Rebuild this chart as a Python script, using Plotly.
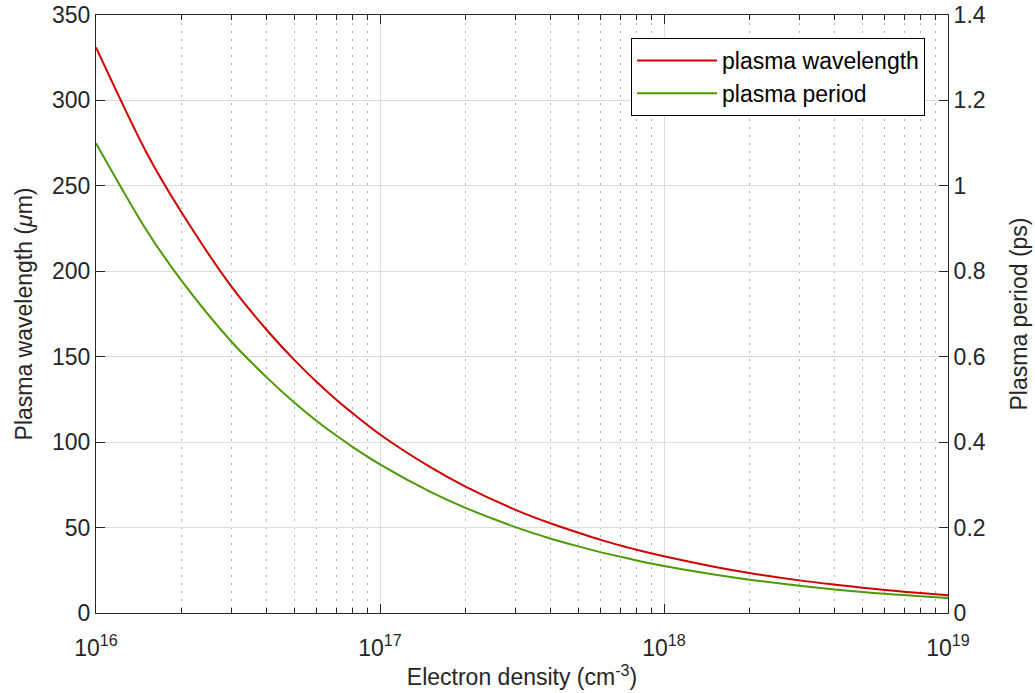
import plotly.graph_objects as go

# Data
density = [1e16, 1.5e16, 2e16, 3e16, 4e16, 5e16, 6e16, 7e16, 8e16,
           1e17, 1.5e17, 2e17, 3e17, 4e17, 5e17, 6e17, 7e17, 8e17,
           1e18, 1.5e18, 2e18, 3e18, 4e18, 5e18, 6e18, 7e18, 8e18, 1e19]
wavelength_um = [331, 270, 234.5, 191, 165.5, 148, 135, 125, 117,
                 104.5, 85.5, 74.0, 60.4, 52.4, 47.0, 42.8, 39.6, 37.0,
                 33.2, 27.1, 23.4, 19.1, 16.6, 14.8, 13.5, 12.5, 11.7, 10.4]
period_ps = [1.10, 0.898, 0.778, 0.635, 0.551, 0.492, 0.449, 0.416, 0.389,
             0.348, 0.284, 0.246, 0.201, 0.174, 0.156, 0.142, 0.132, 0.123,
             0.110, 0.090, 0.078, 0.064, 0.055, 0.049, 0.045, 0.042, 0.039, 0.035]

x_major = [1e16, 1e17, 1e18, 1e19]
x_major_text = ["10<sup>16</sup>", "10<sup>17</sup>", "10<sup>18</sup>", "10<sup>19</sup>"]
x_minor = [m * d for d in [1e16, 1e17, 1e18] for m in range(2, 10)]

RED = "#d00000"
GREEN = "#4c9900"
AX = "#262626"
FONT = "Liberation Sans, Arial, sans-serif"
FS = 23

fig = go.Figure()
fig.add_trace(go.Scatter(x=density, y=wavelength_um, mode="lines",
                         line=dict(color=RED, width=2, shape="spline", smoothing=0.8),
                         name="plasma wavelength", yaxis="y"))
fig.add_trace(go.Scatter(x=density, y=period_ps, mode="lines",
                         line=dict(color=GREEN, width=2, shape="spline", smoothing=0.8),
                         name="plasma period", yaxis="y2"))

fig.update_layout(
    width=1035, height=693,
    margin=dict(l=96, r=87, t=15, b=80, autoexpand=False),
    paper_bgcolor="white", plot_bgcolor="white",
    font=dict(family=FONT, size=FS, color=AX),
    showlegend=True,
    legend=dict(x=0.973, y=0.9615, xanchor="right", yanchor="top",
                bgcolor="white", bordercolor="#000000", borderwidth=1,
                font=dict(size=FS, color="#000000"),
                itemwidth=80, tracegroupgap=0),
    xaxis=dict(
        type="log", range=[16, 19], automargin=False,
        tickmode="array", tickvals=x_major, ticktext=x_major_text,
        ticks="inside", ticklen=9, tickwidth=1, tickcolor=AX,
        showline=True, linecolor=AX, linewidth=1, mirror="ticks",
        showgrid=True, gridcolor="#dcdcdc", gridwidth=1,
        zeroline=False, ticklabelstandoff=14,
        minor=dict(tickmode="array", tickvals=x_minor, ticks="inside",
                   ticklen=5, tickcolor=AX, showgrid=True,
                   gridcolor="#b4b4b4", griddash="2px,6px", gridwidth=1),
        title=dict(text="Electron density (cm<sup>-3</sup>)", standoff=9,
                   font=dict(size=FS)),
        tickfont=dict(size=FS),
    ),
    yaxis=dict(
        range=[0, 350], dtick=50, tick0=0, automargin=False,
        ticks="inside", ticklen=9, tickcolor=AX,
        showline=True, linecolor=AX, linewidth=1, mirror=True,
        showgrid=True, gridcolor="#dcdcdc", gridwidth=1, zeroline=False,
        title=dict(text="Plasma wavelength (<i>μ</i>m)", standoff=12,
                   font=dict(size=FS)),
        tickfont=dict(size=FS),
    ),
    yaxis2=dict(
        range=[0, 1.4], dtick=0.2, tick0=0, automargin=False,
        overlaying="y", side="right", anchor="x",
        ticks="inside", ticklen=9, tickcolor=AX,
        showline=True, linecolor=AX, linewidth=1,
        showgrid=False, zeroline=False,
        title=dict(text="Plasma period (ps)", standoff=26,
                   font=dict(size=FS)),
        tickfont=dict(size=FS),
    ),
)

fig.write_html("out.html")
